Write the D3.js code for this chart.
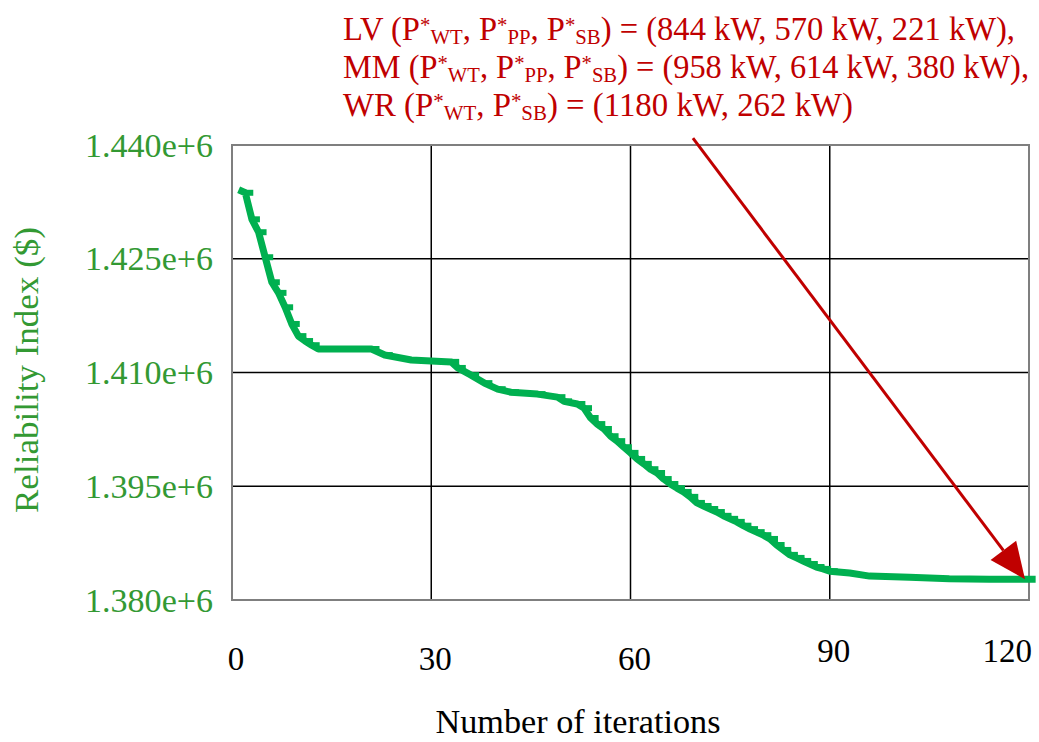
<!DOCTYPE html>
<html>
<head>
<meta charset="utf-8">
<script src="https://cdn.jsdelivr.net/npm/d3@7"></script>
<style>
  html, body { margin: 0; padding: 0; background: #fff; }
  text { font-family: "Liberation Serif", "DejaVu Serif", serif; }
</style>
</head>
<body>
<svg id="chart" width="1039" height="742"></svg>
<script>
// iterations, with the matching reliability index
const iterations = [1, 2, 3, 4, 5, 6, 7, 8, 9, 10, 11, 12, 13, 21, 23, 27, 33,
    34, 36, 38, 40, 42, 46, 49, 50, 52, 53, 54, 55, 56, 57, 58, 59, 60, 61, 62, 63,
    64, 65, 66, 67, 68, 69, 70, 71, 72, 73, 74, 75, 76, 77, 78, 79, 80, 81, 82, 83,
    84, 85, 86, 87, 88, 89, 90, 93, 96, 102, 108, 114, 121];
const reliability = [1434100, 1433700, 1430200, 1428500, 1425200, 1421900, 1420500,
    1418600, 1416400, 1414800, 1414150, 1413600, 1413100, 1413100, 1412300, 1411650,
    1411400, 1410600, 1409650, 1408600, 1407800, 1407400, 1407150, 1406750, 1406200,
    1405850, 1405300, 1404000, 1403200, 1402550, 1401600, 1400950, 1400150, 1399400,
    1398600, 1397950, 1397250, 1396750, 1395950, 1395300, 1394750, 1394250, 1393600,
    1392800, 1392400, 1392000, 1391600, 1391100, 1390700, 1390300, 1389800, 1389350,
    1388950, 1388550, 1388050, 1387250, 1386600, 1385950, 1385550, 1385150, 1384750,
    1384350, 1384100, 1383800, 1383550, 1383150, 1383000, 1382800, 1382750, 1382750];

const xTicks = [0, 30, 60, 90, 120];
const yTicks = [1380000, 1395000, 1410000, 1425000, 1440000];

// arrow from the annotation down to the final value
const arrowFrom = [69.4, 1440900];
const arrowTo = [119.4, 1382750];

const noteLines = [
    [["LV (P", 0], ["*", 1], ["WT", -1], [", P", 0], ["*", 1], ["PP", -1], [", P", 0], ["*", 1], ["SB", -1], [") = (844 kW, 570 kW, 221 kW),", 0]],
    [["MM (P", 0], ["*", 1], ["WT", -1], [", P", 0], ["*", 1], ["PP", -1], [", P", 0], ["*", 1], ["SB", -1], [") = (958 kW, 614 kW, 380 kW),", 0]],
    [["WR (P", 0], ["*", 1], ["WT", -1], [", P", 0], ["*", 1], ["SB", -1], [") = (1180 kW, 262 kW)", 0]]
];
const noteWidths = [672, 686, 510];

const margin = { top: 145, left: 232 };
const plotW = 797;
const height = 455;

const svg = d3.select("#chart");
const g = svg.append("g").attr("transform", `translate(${margin.left}, ${margin.top})`);

const x = d3.scaleLinear().domain([0, 120]).range([0, plotW]);
const y = d3.scaleLinear().domain([1380000, 1440000]).range([height, 0]);

const green = "#00B050";
const labelGreen = "#339933";
const red = "#C00000";

// grid
g.append("g")
    .selectAll("line")
    .data(xTicks.slice(1, -1))
    .join("line")
    .attr("x1", d => x(d)).attr("x2", d => x(d))
    .attr("y1", 0).attr("y2", height)
    .attr("stroke", "#000").attr("stroke-width", 1.5);

g.append("g")
    .selectAll("line")
    .data(yTicks.slice(1, -1))
    .join("line")
    .attr("x1", 0).attr("x2", plotW)
    .attr("y1", d => y(d)).attr("y2", d => y(d))
    .attr("stroke", "#000").attr("stroke-width", 1.5);

g.append("rect")
    .attr("x", 0).attr("y", 0)
    .attr("width", plotW).attr("height", height)
    .attr("fill", "none")
    .attr("stroke", "#7f7f7f").attr("stroke-width", 2);

// y tick labels
g.append("g")
    .selectAll("text")
    .data(yTicks)
    .join("text")
    .attr("x", -19)
    .attr("y", d => y(d))
    .attr("dy", "0.35em")
    .attr("text-anchor", "end")
    .attr("fill", labelGreen)
    .style("font-size", "33px")
    .attr("textLength", 128)
    .attr("lengthAdjust", "spacingAndGlyphs")
    .text(d => (d / 1e6).toFixed(3) + "e+6");

// x tick labels (the last two sit a little higher, last one pulled inside)
g.append("g")
    .selectAll("text")
    .data(xTicks)
    .join("text")
    .attr("x", (d, i) => i === xTicks.length - 1 ? x(d) + 3 : x(d) + 4)
    .attr("y", d => d >= 90 ? height + 62 : height + 70)
    .attr("text-anchor", (d, i) => i === xTicks.length - 1 ? "end" : "middle")
    .attr("fill", "#000")
    .style("font-size", "33px")
    .text(d => d);

// axis titles
svg.append("text")
    .attr("x", 578).attr("y", 733)
    .attr("text-anchor", "middle")
    .style("font-size", "33px")
    .attr("fill", "#000")
    .attr("textLength", 285)
    .attr("lengthAdjust", "spacingAndGlyphs")
    .text("Number of iterations");

svg.append("text")
    .attr("transform", "translate(38, 370) rotate(-90)")
    .attr("text-anchor", "middle")
    .style("font-size", "33px")
    .attr("fill", labelGreen)
    .attr("textLength", 286)
    .attr("lengthAdjust", "spacingAndGlyphs")
    .text("Reliability Index ($)");

// series
const data = iterations.map((d, i) => ({ it: d, v: reliability[i] }));

const line = d3.line()
    .x(d => x(d.it))
    .y(d => y(d.v));

g.append("path")
    .datum(data)
    .attr("d", line)
    .attr("fill", "none")
    .attr("stroke", green)
    .attr("stroke-width", 7)
    .attr("stroke-linejoin", "round");

// short dash markers
g.append("g")
    .selectAll("line")
    .data(data.slice(1, -6))
    .join("line")
    .attr("x1", d => x(d.it))
    .attr("x2", d => x(d.it) + 8)
    .attr("y1", d => y(d.v))
    .attr("y2", d => y(d.v))
    .attr("stroke", green)
    .attr("stroke-width", 6);

// annotation arrow
const ax1 = x(arrowFrom[0]), ay1 = y(arrowFrom[1]);
const ax2 = x(arrowTo[0]), ay2 = y(arrowTo[1]);
const ang = Math.atan2(ay2 - ay1, ax2 - ax1);
const headLen = 36, headHalf = 16;
const bx = ax2 - headLen * Math.cos(ang), by = ay2 - headLen * Math.sin(ang);

g.append("line")
    .attr("x1", ax1).attr("y1", ay1)
    .attr("x2", bx).attr("y2", by)
    .attr("stroke", red).attr("stroke-width", 3);

g.append("path")
    .attr("d", d3.line()([
        [ax2, ay2],
        [bx + headHalf * Math.sin(ang), by - headHalf * Math.cos(ang)],
        [bx - headHalf * Math.sin(ang), by + headHalf * Math.cos(ang)]
    ]) + "Z")
    .attr("fill", red);

// annotation text
const note = svg.append("g");
noteLines.forEach((parts, i) => {
    const t = note.append("text")
        .attr("x", 343)
        .attr("y", 40 + i * 38)
        .attr("fill", red)
        .style("font-size", "33px")
        .attr("textLength", noteWidths[i])
        .attr("lengthAdjust", "spacingAndGlyphs");
    parts.forEach(([s, pos]) => {
        t.append("tspan")
            .attr("baseline-shift", pos === 1 ? "40%" : pos === -1 ? "-20%" : null)
            .style("font-size", pos === 0 ? "33px" : "21px")
            .text(s);
    });
});
</script>
</body>
</html>
